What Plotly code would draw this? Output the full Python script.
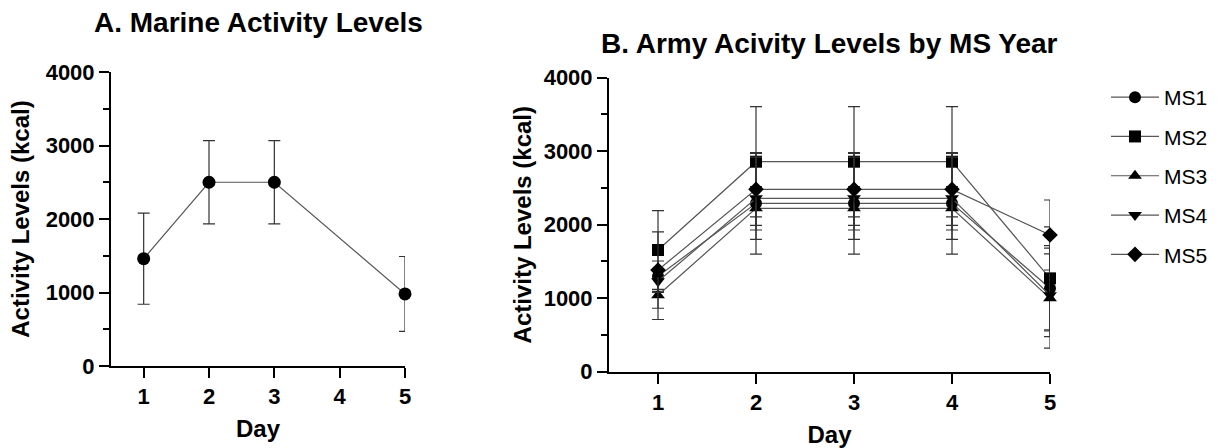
import plotly.graph_objects as go

# Panel A: Marine daily activity (mean ± SD)
marine_days = [1, 2, 3, 5]
marine_mean = [1460, 2500, 2500, 980]
marine_sd = [620, 565, 565, 510]

# Panel B: Army activity by MS year
army_days = [1, 2, 3, 4, 5]
ms1_mean = [1300, 2291, 2291, 2291, 1134]
ms1_sd = [206, 690, 690, 690, 580]
ms2_mean = [1656, 2857, 2857, 2857, 1270]
ms2_sd = [535, 750, 750, 750, 700]
ms3_mean = [1040, 2223, 2223, 2223, 1000]
ms3_sd = [330, 295, 295, 295, 680]
ms4_mean = [1230, 2359, 2359, 2359, 1040]
ms4_sd = [150, 560, 560, 560, 564]
ms5_mean = [1383, 2481, 2481, 2481, 1860]
ms5_sd = [520, 490, 490, 490, 476]

ms_names = ["MS1", "MS2", "MS3", "MS4", "MS5"]
ms_means = [ms1_mean, ms2_mean, ms3_mean, ms4_mean, ms5_mean]
ms_sds = [ms1_sd, ms2_sd, ms3_sd, ms4_sd, ms5_sd]
ms_symbols = ["circle", "square", "triangle-up", "triangle-down", "diamond"]
ms_sizes = [12, 12, 12, 12, 12]

day_ticks = [1, 2, 3, 4, 5]
kcal_ticks = [0, 1000, 2000, 3000, 4000]

W, H = 1224, 448
FONT = "Liberation Sans, Arial, sans-serif"
LINE_GREY = "#555555"
ERR_COL = "#333333"

fig = go.Figure()

fig.add_trace(go.Scatter(
    x=marine_days, y=marine_mean,
    error_y=dict(type="data", array=marine_sd, visible=True,
                 color=ERR_COL, thickness=1.2, width=6),
    mode="lines+markers",
    line=dict(color=LINE_GREY, width=1.2),
    marker=dict(symbol="circle", size=13, color="black"),
    cliponaxis=False,
    showlegend=False, xaxis="x", yaxis="y",
))

for name, mean, sd, sym, sz in zip(ms_names, ms_means, ms_sds, ms_symbols, ms_sizes):
    fig.add_trace(go.Scatter(
        x=army_days, y=mean,
        error_y=dict(type="data", array=sd, visible=True,
                     color=ERR_COL, thickness=1.2, width=6),
        mode="lines+markers",
        line=dict(color=LINE_GREY, width=1.2),
        marker=dict(symbol=sym, size=sz, color="black"),
        cliponaxis=False,
        name=name, legendgroup=name,
        xaxis="x2", yaxis="y2",
    ))


def px_x(p):
    return p / W


def px_y(p):
    return (H - p) / H


axis_common = dict(
    showline=True, linecolor="black", linewidth=2,
    ticks="outside", ticklen=10, tickwidth=2, tickcolor="black",
    showgrid=False, zeroline=False, automargin=False,
    tickfont=dict(family=FONT, size=22, color="black", weight="bold"),
)

ymin = dict(dtick=500, ticks="outside", ticklen=6, tickwidth=2,
            tickcolor="black", showgrid=False)

title_font = dict(family=FONT, size=24, weight="bold", color="black")

fig.update_layout(
    width=W, height=H,
    margin=dict(l=0, r=0, t=0, b=0),
    paper_bgcolor="white", plot_bgcolor="white",
    font=dict(family=FONT, color="black"),
    xaxis=dict(domain=[px_x(111), px_x(405)], range=[0.5, 5],
               tickvals=day_ticks, anchor="y",
               title=dict(text="Day", standoff=12, font=title_font),
               **axis_common),
    yaxis=dict(domain=[px_y(366), px_y(72)], range=[0, 4000],
               tickvals=kcal_ticks, anchor="x", minor=ymin,
               title=dict(text="Activity Levels (kcal)", standoff=9,
                          font=title_font),
               **axis_common),
    xaxis2=dict(domain=[px_x(609), px_x(1050)], range=[0.5, 5],
                tickvals=day_ticks, anchor="y2",
                title=dict(text="Day", standoff=14, font=title_font),
                **axis_common),
    yaxis2=dict(domain=[px_y(371.7), px_y(77.7)], range=[0, 4000],
                tickvals=kcal_ticks, anchor="x2", minor=ymin,
                title=dict(text="Activity Levels (kcal)", standoff=5,
                           font=title_font),
                **axis_common),
    legend=dict(x=px_x(1106), y=px_y(77), xanchor="left", yanchor="top",
                font=dict(family=FONT, size=21, color="black"),
                tracegroupgap=9, traceorder="grouped", itemwidth=48,
                bgcolor="rgba(0,0,0,0)"),
    annotations=[
        dict(text="A. Marine Activity Levels", x=(px_x(111) + px_x(405)) / 2,
             y=px_y(23), xref="paper", yref="paper", showarrow=False,
             xanchor="center", yanchor="middle",
             font=dict(family=FONT, size=28, color="black", weight="bold")),
        dict(text="B. Army Acivity Levels by MS Year",
             x=(px_x(609) + px_x(1050)) / 2, y=px_y(43),
             xref="paper", yref="paper", showarrow=False,
             xanchor="center", yanchor="middle",
             font=dict(family=FONT, size=28, color="black", weight="bold")),
    ],
)

fig.write_html("out.html")
